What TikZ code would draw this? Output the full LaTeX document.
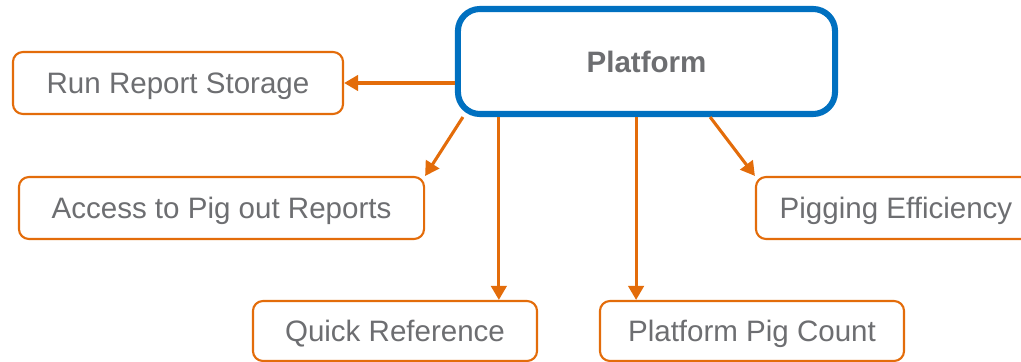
\documentclass[tikz,border=0pt]{standalone}
\usepackage{fontspec}
\setmainfont{Liberation Sans}
\usetikzlibrary{arrows.meta}
\definecolor{hubblue}{HTML}{0070C0}
\definecolor{linkorange}{HTML}{E36C0A}
\definecolor{textgray}{HTML}{6D6E71}
\tikzset{
  item/.style={draw=linkorange, line width=1.5pt, rounded corners=0.25cm, fill=white,
    minimum height=1.55cm, inner sep=0pt, text=textgray,
    text height=15pt, text depth=0pt,
    font=\fontsize{21}{25}\selectfont},
  hub/.style={draw=hubblue, line width=4.3pt, rounded corners=0.55cm, fill=white,
    minimum width=9.425cm, minimum height=2.625cm, inner sep=0pt, text=textgray,
    text height=15pt, text depth=0pt,
    font=\fontsize{21}{25}\selectfont\bfseries},
  link/.style={draw=linkorange, line width=2.2pt, -{Triangle[length=10pt,width=11pt]}}
}
\begin{document}
\begin{tikzpicture}[x=0.025cm,y=-0.025cm]
  \useasboundingbox (0,0) rectangle (1021,362);
  % centre box and the five items round it
  \node[hub] (plat) at (646.5,61.5) {Platform};
  \node[item, minimum width=8.25cm] (runrep) at (178,83) {Run Report Storage};
  \node[item, minimum width=10.125cm] (access) at (221.5,208) {Access to Pig out Reports};
  \node[item, minimum width=7cm] (pigeff) at (896,208) {Pigging Efficiency};
  \node[item, minimum width=7.1cm, minimum height=1.5cm] (quickref) at (395,331) {Quick Reference};
  \node[item, minimum width=7.6cm, minimum height=1.5cm] (pigcount) at (752,331) {Platform Pig Count};
  % arrows out of the platform
  \draw[link] (plat.west |- runrep.east) -- (runrep.east);
  \draw[link] ([xshift=0.2cm]plat.south west) -- (access.north east);
  \draw[link] ([xshift=-3.69cm]plat.south) -- ([xshift=-3.69cm]plat.south |- quickref.north);
  \draw[link] ([xshift=-0.26cm]plat.south) -- ([xshift=-0.26cm]plat.south |- pigcount.north);
  \draw[link] ([xshift=1.59cm]plat.south) -- (pigeff.north west);
\end{tikzpicture}
\end{document}
